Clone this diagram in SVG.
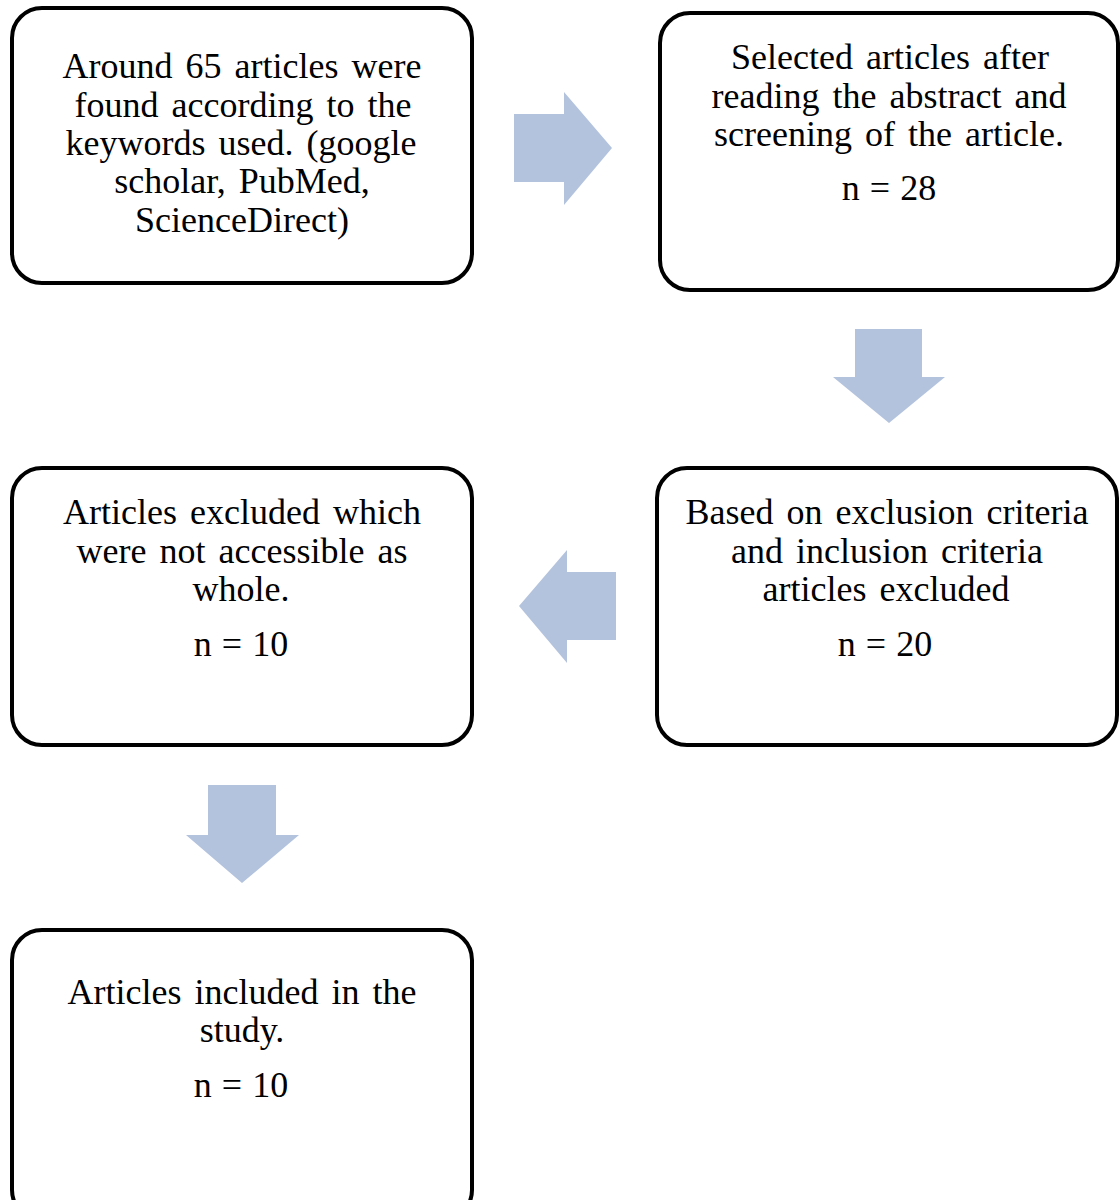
<svg xmlns="http://www.w3.org/2000/svg" width="1120" height="1200" viewBox="0 0 1120 1200">
<style>
.box{fill:#ffffff;stroke:#000000;stroke-width:4}
.t{font-family:"Liberation Serif","Times New Roman",serif;font-size:36px;fill:#000000;text-anchor:middle;word-spacing:4px}
.n{word-spacing:1px}
.arr{fill:#b3c3de}
</style>
<rect width="1120" height="1200" fill="#ffffff"/>
<g id="connectors">
<polygon class="arr" points="514,114 564,114 564,92 612,148 564,205 564,182 514,182"/>
<polygon class="arr" points="855,329 922,329 922,377 945,377 889,423 833,377 855,377"/>
<polygon class="arr" points="616,572 567,572 567,550 519,606 567,663 567,640 616,640"/>
<polygon class="arr" points="208,785 276,785 276,835 299,835 242,883 186,835 208,835"/>
</g>
<g id="node1">
<rect class="box" x="12" y="8" width="460" height="275" rx="30"/>
<text class="t" x="242" y="78">Around 65 articles were</text>
<text class="t" x="243" y="117">found according to the</text>
<text class="t" x="241" y="155">keywords used. (google</text>
<text class="t" x="242" y="193">scholar, PubMed,</text>
<text class="t" x="242" y="232">ScienceDirect)</text>
</g>
<g id="node2">
<rect class="box" x="660" y="13" width="458" height="277" rx="30"/>
<text class="t" x="890" y="69">Selected articles after</text>
<text class="t" x="889" y="108">reading the abstract and</text>
<text class="t" x="889" y="146">screening of the article.</text>
<text class="t n" x="889" y="200">n = 28</text>
</g>
<g id="node3">
<rect class="box" x="12" y="468" width="460" height="277" rx="30"/>
<text class="t" x="242" y="524">Articles excluded which</text>
<text class="t" x="242" y="563">were not accessible as</text>
<text class="t" x="241" y="601">whole.</text>
<text class="t n" x="241" y="656">n = 10</text>
</g>
<g id="node4">
<rect class="box" x="657" y="468" width="460" height="277" rx="30"/>
<text class="t" x="887" y="524">Based on exclusion criteria</text>
<text class="t" x="887" y="563">and inclusion criteria</text>
<text class="t" x="886" y="601">articles excluded</text>
<text class="t n" x="885" y="656">n = 20</text>
</g>
<g id="node5">
<rect class="box" x="12" y="930" width="460" height="290" rx="30"/>
<text class="t" x="242" y="1004">Articles included in the</text>
<text class="t" x="242" y="1042">study.</text>
<text class="t n" x="241" y="1097">n = 10</text>
</g>
</svg>
